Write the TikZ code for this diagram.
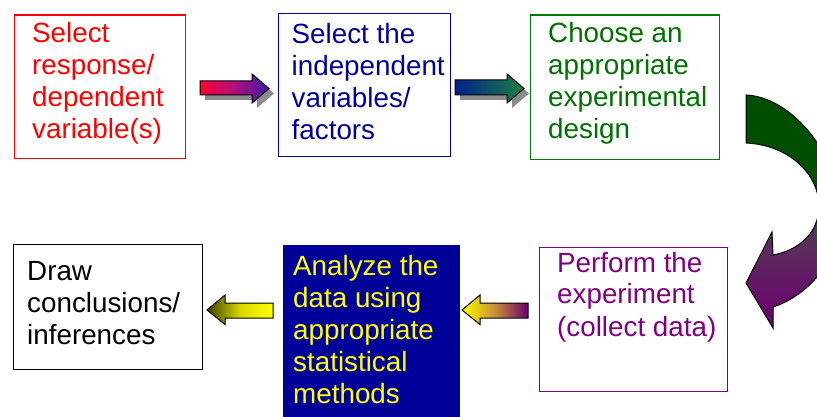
\documentclass[tikz,border=0pt]{standalone}
\usepackage{fontspec}
\setmainfont{Liberation Sans}
\definecolor{cred}{HTML}{FF0000}
\definecolor{cnavy}{HTML}{000099}
\definecolor{cgreen}{HTML}{007A00}
\definecolor{cgreentext}{HTML}{007000}
\definecolor{cpurple}{HTML}{800080}
\definecolor{cyel}{HTML}{FFFF00}
\definecolor{shadowgray}{HTML}{8C8C8C}
\definecolor{curvegreen}{HTML}{004F00}
\definecolor{curvemid}{HTML}{4C3E52}
\definecolor{curvepurp}{HTML}{5C2A5E}
\definecolor{curvepurpdark}{HTML}{680C6C}
\definecolor{arrred}{HTML}{FF0033}
\definecolor{arrmag}{HTML}{B0107A}
\definecolor{arrviolet}{HTML}{3A1CA8}
\definecolor{arrnavy}{HTML}{00208A}
\definecolor{arrgreen}{HTML}{1E8040}
% vertical blend for the curved turn arrow (path box spans 25bp..75bp)
\pgfdeclareverticalshading{turnshade}{100bp}{%
  color(0bp)=(curvepurpdark); color(25bp)=(curvepurpdark);
  color(31bp)=(curvepurpdark); color(41bp)=(curvepurp);
  color(50bp)=(curvemid); color(53bp)=(curvegreen);
  color(100bp)=(curvegreen)}
\newcommand{\stack}[1]{\begin{tabular}[t]{@{}l@{}}#1\end{tabular}}
\begin{document}
\begin{tikzpicture}[x=1pt,y=-1pt,
  stepbox/.style={draw, line width=1.4pt, rectangle, anchor=north west, inner sep=0pt},
  steptext/.style={anchor=base west, inner sep=0pt, font=\fontsize{27.8}{32}\selectfont},
  blockarrow/.style={draw=black, line width=1pt, line join=miter},
  arrowshadow/.style={fill=shadowgray, draw=none}]
\useasboundingbox (0,0) rectangle (817,417);

% process boxes
\node[stepbox, draw=cred, minimum width=171.5pt, minimum height=143.5pt] (b1) at (13.5,14.5) {};
\node[stepbox, draw=cnavy, minimum width=172pt, minimum height=143pt] (b2) at (278,13) {};
\node[stepbox, draw=cgreen, minimum width=189.5pt, minimum height=144.5pt] (b3) at (529.5,14.5) {};
\node[stepbox, draw=black, minimum width=189pt, minimum height=125pt] (b4) at (13,244) {};
\node[stepbox, draw=none, fill=cnavy, minimum width=177pt, minimum height=180pt] (b5) at (282,244) {};
\node[stepbox, draw=cpurple, minimum width=188.5pt, minimum height=144pt] (b6) at (538.5,247) {};

% box texts
\node[steptext, text=cred] (t1) at (32,43) {\stack{Select\\response/\\dependent\\variable(s)}};
\node[steptext, text=cnavy] (t2) at (291.5,44) {\stack{Select the\\independent\\variables/\\factors}};
\node[steptext, text=cgreentext] (t3) at (548,43) {\stack{Choose an\\appropriate\\experimental\\design}};
\node[steptext, text=black] (t4) at (27,280) {\stack{Draw\\conclusions/\\inferences}};
\node[steptext, text=cyel] (t5) at (293,275) {\stack{Analyze the\\data using\\appropriate\\statistical\\methods}};
\node[steptext, text=cpurple] (t6) at (557,272) {\stack{Perform the\\experiment\\(collect data)}};

% top row block arrows with drop shadows
\fill[arrowshadow] (205,86) -- (257,86) -- (257,79) -- (274,93.5) -- (257,108) -- (257,100) -- (205,100) -- cycle;
\shade[blockarrow, left color=arrred, right color=arrviolet, middle color=arrmag]
  (200,81) -- (252,81) -- (252,74) -- (269,88.5) -- (252,103) -- (252,95) -- (200,95) -- cycle;

\fill[arrowshadow] (460,85) -- (512,85) -- (512,79) -- (529,93.5) -- (512,108) -- (512,100) -- (460,100) -- cycle;
\shade[blockarrow, left color=arrnavy, right color=arrgreen]
  (455,80) -- (507,80) -- (507,74) -- (524,88.5) -- (507,103) -- (507,95) -- (455,95) -- cycle;

% bottom row block arrows
\shade[blockarrow, left color=black!75!cyel, right color=cyel, middle color=cyel!85!black]
  (273,303) -- (225,303) -- (225,295) -- (207,310) -- (225,324.5) -- (225,318) -- (273,318) -- cycle;
\shade[blockarrow, left color=cyel, right color=cpurple!85!black, middle color=cyel!55!cpurple]
  (528,303) -- (480,303) -- (480,295) -- (462,310) -- (480,324.5) -- (480,318) -- (528,318) -- cycle;

% curved turn arrow leading from the top row down to the bottom row
\begin{scope}
\clip (0,0) rectangle (817,417);
\shade[shading=turnshade, draw=black, line width=1pt, line join=miter]
  (746,95) .. controls (790,97) and (835,150) .. (840,205)
  .. controls (845,260) and (805,297) .. (773,307)
  -- (773,328) -- (746,283) -- (772,232) -- (773,255)
  .. controls (800,250) and (819,232) .. (819,206)
  .. controls (819,175) and (790,145) .. (746,143)
  -- cycle;
\end{scope}
\end{tikzpicture}
\end{document}
